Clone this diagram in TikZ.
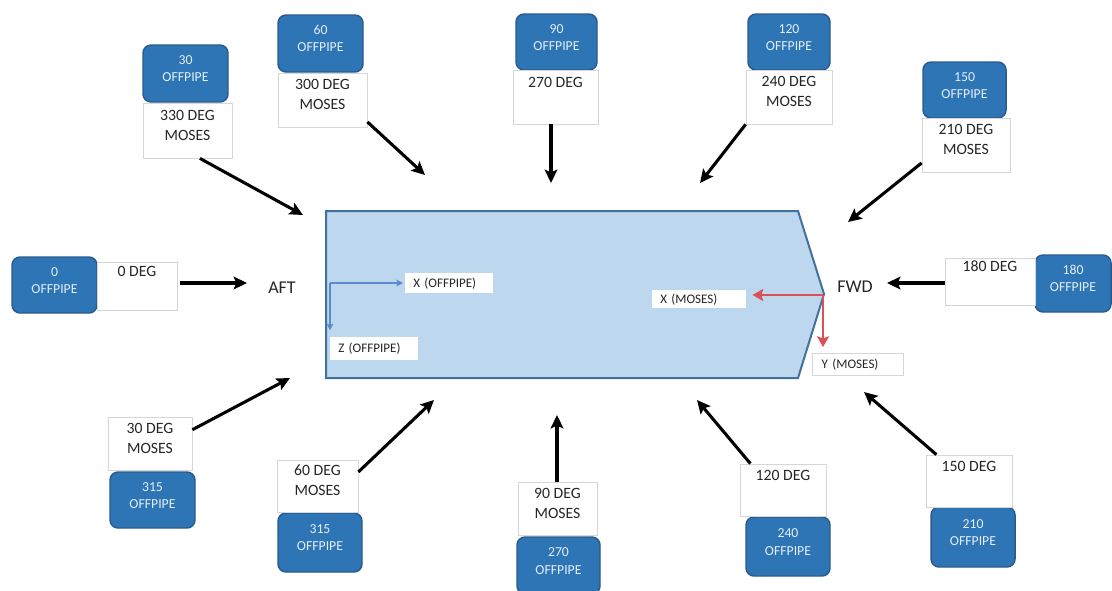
\documentclass[tikz,border=0pt]{standalone}
\usepackage{fontspec}
\setmainfont{Carlito}
\usetikzlibrary{arrows.meta,fit,calc}
\definecolor{offblue}{HTML}{2E75B6}
\definecolor{offedge}{HTML}{2A5B8C}
\definecolor{offtext}{HTML}{E4EEF8}
\definecolor{shipfill}{HTML}{BDD7EE}
\definecolor{shipedge}{HTML}{41719C}
\definecolor{axblue}{HTML}{5B8BC9}
\definecolor{axred}{HTML}{DB4F57}
\definecolor{wedge}{HTML}{D6D6D6}
\definecolor{txt}{HTML}{262626}
\begin{document}
\begin{tikzpicture}[x=0.75pt,y=-0.75pt,
  offbox/.style={fill=offblue, draw=offedge, line width=1.1pt, rounded corners=6pt, inner sep=0pt, text=offtext, align=center, font=\fontsize{10.3}{12.8}\selectfont},
  degbox/.style={fill=white, draw=wedge, line width=0.6pt, inner sep=0pt, align=center, text=txt, font=\fontsize{11.8}{15}\selectfont},
  axlabel/.style={fill=white, inner ysep=0pt, inner xsep=6pt, align=left, anchor=north west, text=txt, font=\fontsize{9.8}{11}\selectfont},
  dirarrow/.style={line width=2.3pt, -{Stealth[length=10pt,width=9.5pt,inset=2pt]}},
  bluearrow/.style={draw=axblue, line width=0.8pt, -{Stealth[length=5pt,width=5pt,inset=1pt]}},
  redarrow/.style={draw=axred, line width=2.2pt, -{Stealth[length=8pt,width=9pt,inset=1.5pt]}},
  ship/.style={fill=shipfill, draw=shipedge, line width=1.5pt, line join=miter},
  endlabel/.style={text=txt, font=\fontsize{13.5}{15}\selectfont}
]
\useasboundingbox[fill=white] (0,0) rectangle (1112,590);

% ship hull
\coordinate (s1) at (326,211);
\coordinate (s2) at (798,211);
\coordinate (s3) at (824,294);
\coordinate (s4) at (798,378);
\coordinate (s5) at (326,378);
\draw[ship] (s1) -- (s2) -- (s3) -- (s4) -- (s5) -- cycle;

% axis labels in hull
\node[axlabel, text width=54pt, minimum height=15pt] (xlab) at (405,273) {X (OFFPIPE)};
\node[axlabel, text width=54pt, minimum height=17pt] (zlab) at (330,337) {Z (OFFPIPE)};
\node[axlabel, text width=58pt, minimum height=13.5pt] (xm) at (652,290) {X (MOSES)};
\node[axlabel, draw=wedge, line width=0.6pt, inner xsep=7pt, text width=54pt, minimum height=16.5pt] (ym) at (812,353) {Y (MOSES)};

\coordinate (oo) at (330,283);
\coordinate (om) at (823,295);
\draw[bluearrow, shorten >=1.5pt] (oo) -- (xlab.west |- oo);
\draw[bluearrow, shorten >=5pt] (oo) -- (oo |- zlab.north);
\draw[redarrow, shorten >=5pt] (om) -- (xm.east |- om);
\draw[redarrow, shorten >=4.5pt] (om) -- (om |- ym.north);

\node[endlabel] (aft) at (282,288) {AFT};
\node[endlabel] (fwd) at (855,287) {FWD};

% OFFPIPE boxes
\node[offbox, fit={(12,257) (97,313)}] (b0) {0\\OFFPIPE};
\node[offbox, fit={(143,45) (228,102)}] (b30) {30\\OFFPIPE};
\node[offbox, fit={(278,15) (363,72)}] (b60) {60\\OFFPIPE};
\node[offbox, fit={(516,14) (597,70)}] (b90) {90\\OFFPIPE};
\node[offbox, fit={(748,14) (830,70)}] (b120) {120\\OFFPIPE};
\node[offbox, fit={(923,62) (1006,118)}] (b150) {150\\OFFPIPE};
\node[offbox, fit={(1035,255) (1111,312)}] (b180) {180\\OFFPIPE};
\node[offbox, fit={(110,472) (195,528)}] (b315a) {315\\OFFPIPE};
\node[offbox, fit={(278,513) (362,572)}] (b315b) {315\\OFFPIPE};
\node[offbox, fit={(517,537) (600,594)}] (b270) {270\\OFFPIPE};
\node[offbox, fit={(746,517) (830,576)}] (b240) {240\\OFFPIPE};
\node[offbox, fit={(931,507) (1015,567)}] (b210) {210\\OFFPIPE};

% MOSES / DEG boxes
\node[degbox, fit={(97,262) (177,310)}] (w0) {0 DEG\\~};
\node[degbox, fit={(143,103) (232,158)}] (w330) {330 DEG\\MOSES};
\node[degbox, fit={(278,73) (367,127)}] (w300) {300 DEG\\MOSES};
\node[degbox, fit={(513,70) (598,124)}] (w270) {270 DEG\\~};
\node[degbox, fit={(746,70) (832,124)}] (w240) {240 DEG\\MOSES};
\node[degbox, fit={(922,118) (1010,172)}] (w210) {210 DEG\\MOSES};
\node[degbox, fit={(945,258) (1035,305)}] (w180) {180 DEG\\~};
\node[degbox, fit={(108,417) (192,470)}] (w30) {30 DEG\\MOSES};
\node[degbox, fit={(277,460) (358,512)}] (w60) {60 DEG\\MOSES};
\node[degbox, fit={(518,482) (597,535)}] (w90) {90 DEG\\MOSES};
\node[degbox, fit={(740,464) (826,516)}] (w120) {120 DEG\\~};
\node[degbox, fit={(926,455) (1012,507)}] (w150) {150 DEG\\~};

% arrow tips
\coordinate (t0) at (247,283);
\coordinate (t180) at (887,283);
\coordinate (t330) at (303,215);
\coordinate (t300) at (425,175);
\coordinate (t270) at (551,183);
\coordinate (t240) at (700,183);
\coordinate (t210) at (848,222);
\coordinate (t30) at (290,378);
\coordinate (t60) at (434,400);
\coordinate (t90) at (557,415);
\coordinate (t120) at (697,400);
\coordinate (t150) at (864,392);

\draw[dirarrow] ([xshift=2pt]w0.east |- t0) -- (t0);
\draw[dirarrow] (w180.west |- t180) -- (t180);
\draw[dirarrow] (w330.-66) -- (t330);
\draw[dirarrow] (w300.-26) -- (t300);
\draw[dirarrow] (w270.south -| t270) -- (t270);
\draw[dirarrow] (w240.south west) -- (t240);
\draw[dirarrow] (w210.202) -- (t210);
\draw[dirarrow] (w30.18) -- (t30);
\draw[dirarrow] (w60.19) -- (t60);
\draw[dirarrow] (w90.north -| t90) -- (t90);
\draw[dirarrow] (w120.141) -- (t120);
\draw[dirarrow] (w150.141) -- (t150);
\end{tikzpicture}
\end{document}
